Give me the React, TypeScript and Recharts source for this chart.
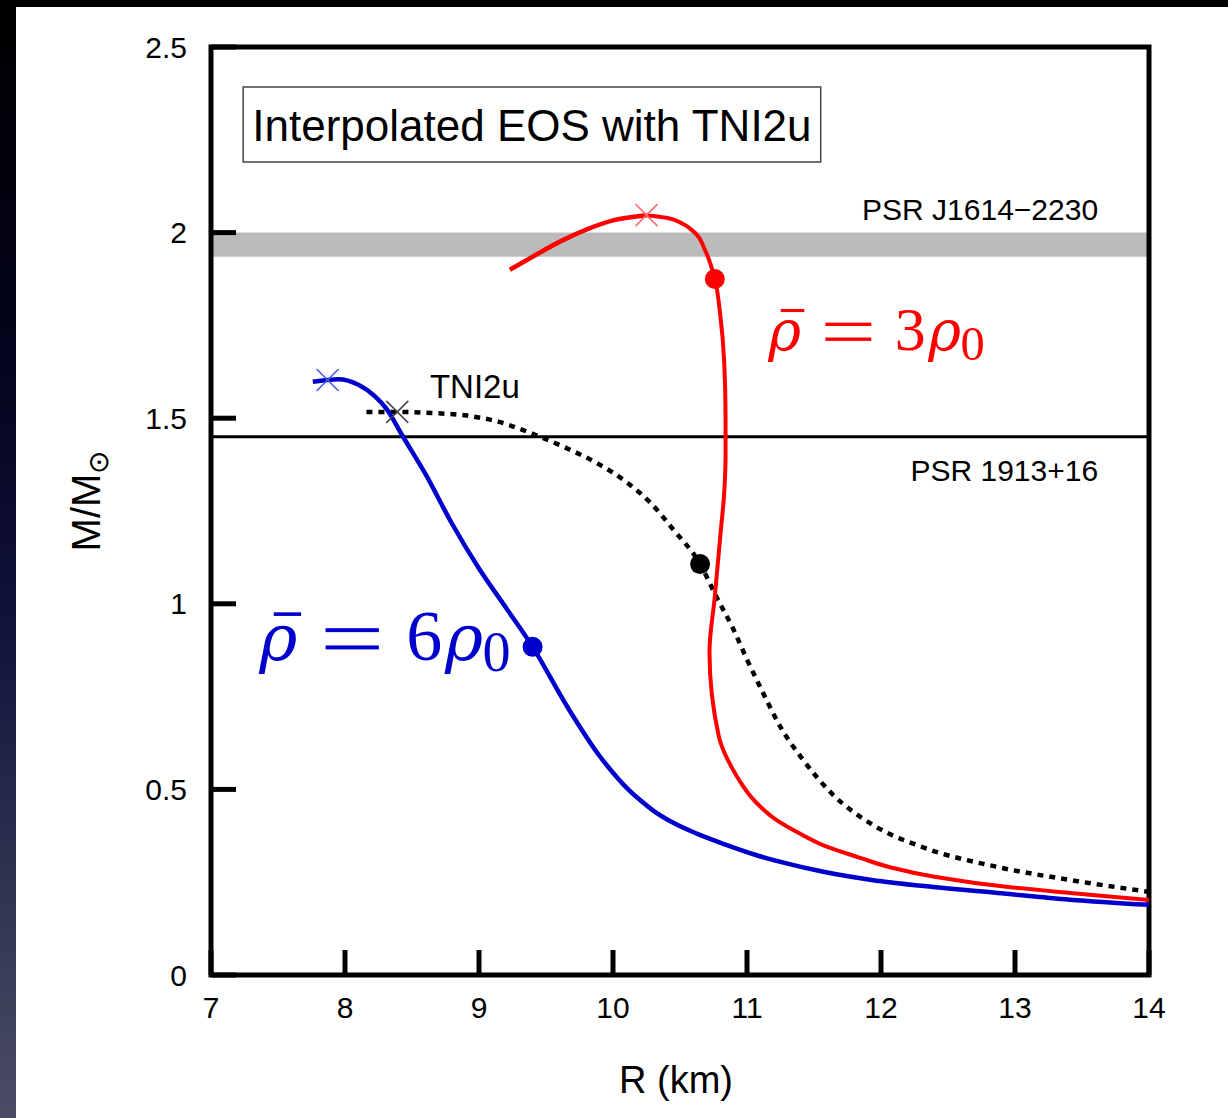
import React from "react";
import {
  ComposedChart,
  Line,
  Scatter,
  XAxis,
  YAxis,
  ReferenceArea,
  ReferenceLine,
  ReferenceDot,
} from "recharts";

const rTicks = [7, 8, 9, 10, 11, 12, 13, 14];
const mTicks = [0, 0.5, 1, 1.5, 2, 2.5];

// mass-radius curves: R (km), M/Msun
// rho = 3 rho0: rising arc up to the maximum mass, then the stable branch
const rho3Arc = [
  { r: 9.23, m: 1.9 }, { r: 9.4, m: 1.935 }, { r: 9.6, m: 1.975 },
  { r: 9.8, m: 2.008 }, { r: 10.0, m: 2.033 }, { r: 10.25, m: 2.047 },
];
const rho3Branch = [
  { r: 10.25, m: 2.047 }, { r: 10.4, m: 2.04 }, { r: 10.52, m: 2.024 },
  { r: 10.61, m: 2.0 }, { r: 10.69, m: 1.95 }, { r: 10.76, m: 1.875 },
  { r: 10.8, m: 1.78 }, { r: 10.83, m: 1.65 }, { r: 10.84, m: 1.5 },
  { r: 10.84, m: 1.4 }, { r: 10.83, m: 1.3 }, { r: 10.8, m: 1.18 },
  { r: 10.76, m: 1.02 }, { r: 10.72, m: 0.87 }, { r: 10.79, m: 0.642 },
  { r: 10.83, m: 0.6 }, { r: 10.885, m: 0.56 }, { r: 10.95, m: 0.52 },
  { r: 11.03, m: 0.48 }, { r: 11.11, m: 0.45 }, { r: 11.21, m: 0.42 },
  { r: 11.39, m: 0.382 }, { r: 11.6, m: 0.345 }, { r: 11.85, m: 0.315 },
  { r: 12.06, m: 0.291 }, { r: 12.41, m: 0.264 }, { r: 12.95, m: 0.237 },
  { r: 13.41, m: 0.221 }, { r: 14.0, m: 0.202 },
];

const rho6Curve = [
  { r: 7.76, m: 1.598 }, { r: 7.95, m: 1.605 }, { r: 8.1, m: 1.59 },
  { r: 8.22, m: 1.56 }, { r: 8.31, m: 1.525 }, { r: 8.43, m: 1.452 },
  { r: 8.6, m: 1.35 }, { r: 8.8, m: 1.215 }, { r: 9.0, m: 1.095 },
  { r: 9.2, m: 0.99 }, { r: 9.4, m: 0.884 }, { r: 9.66, m: 0.722 },
  { r: 9.9, m: 0.59 }, { r: 10.0, m: 0.545 }, { r: 10.1, m: 0.505 },
  { r: 10.2, m: 0.472 }, { r: 10.3, m: 0.443 }, { r: 10.45, m: 0.41 },
  { r: 10.63, m: 0.38 }, { r: 10.85, m: 0.35 }, { r: 11.06, m: 0.324 },
  { r: 11.28, m: 0.302 }, { r: 11.57, m: 0.278 }, { r: 11.93, m: 0.256 },
  { r: 12.39, m: 0.237 }, { r: 12.87, m: 0.221 }, { r: 13.41, m: 0.203 },
  { r: 14.0, m: 0.189 },
];

const tni2uCurve = [
  { r: 8.16, m: 1.517 }, { r: 8.39, m: 1.517 }, { r: 8.65, m: 1.514 },
  { r: 8.91, m: 1.507 }, { r: 9.15, m: 1.49 }, { r: 9.4, m: 1.458 },
  { r: 9.65, m: 1.42 }, { r: 9.9, m: 1.375 }, { r: 10.1, m: 1.328 },
  { r: 10.28, m: 1.272 }, { r: 10.45, m: 1.2 }, { r: 10.65, m: 1.107 },
  { r: 10.77, m: 1.02 }, { r: 10.9, m: 0.93 }, { r: 11.0, m: 0.85 },
  { r: 11.12, m: 0.76 }, { r: 11.25, m: 0.668 }, { r: 11.42, m: 0.579 },
  { r: 11.63, m: 0.49 }, { r: 11.96, m: 0.4 }, { r: 12.33, m: 0.342 },
  { r: 12.87, m: 0.291 }, { r: 13.41, m: 0.256 }, { r: 14.0, m: 0.224 },
];

// maximum-mass configurations (crosses) and marked stars (filled dots)
const rho3Max = [{ r: 10.25, m: 2.047 }];
const rho6Max = [{ r: 7.87, m: 1.603 }];
const tni2uMax = [{ r: 8.39, m: 1.517 }];
const rho3Dot = [{ r: 10.76, m: 1.875 }];
const rho6Dot = [{ r: 9.4, m: 0.884 }];
const tni2uDot = [{ r: 10.65, m: 1.107 }];

// observed pulsar masses
const j1614Band = [1.935, 2.0];
const psr1913Mass = 1.45;

const SANS = "'Liberation Sans', Arial, sans-serif";
const SERIF = "'Liberation Serif', 'DejaVu Serif', serif";
const GREEK = "'DejaVu Serif', serif";

const cross = (color: string) => (p: any) => (
  <g stroke={color} strokeWidth={1.5}>
    <line x1={p.cx - 11} y1={p.cy - 11} x2={p.cx + 11} y2={p.cy + 11} />
    <line x1={p.cx - 11} y1={p.cy + 11} x2={p.cx + 11} y2={p.cy - 11} />
  </g>
);

const disc = (color: string) => (p: any) => (
  <circle cx={p.cx} cy={p.cy} r={10} fill={color} />
);

// \bar\rho = N \rho_0, laid out relative to the anchor (baseline-left)
const mathLabel = (digit: string, color: string, s: number) => (p: any) => {
  const x = p.cx;
  const y = p.cy;
  return (
    <g fill={color}>
      <text x={x + 0.02 * s} y={y} fontFamily={GREEK} fontStyle="italic" fontSize={0.9 * s}>ρ</text>
      <rect x={x + 0.22 * s} y={y - 0.66 * s} width={0.38 * s} height={0.05 * s} />
      <rect x={x + 0.94 * s} y={y - 0.44 * s} width={0.74 * s} height={0.055 * s} />
      <rect x={x + 0.94 * s} y={y - 0.2 * s} width={0.74 * s} height={0.055 * s} />
      <text x={x + 2.06 * s} y={y} fontFamily={SERIF} fontSize={s}>{digit}</text>
      <text x={x + 2.6 * s} y={y} fontFamily={GREEK} fontStyle="italic" fontSize={0.9 * s}>ρ</text>
      <text x={x + 3.12 * s} y={y + 0.16 * s} fontFamily={SERIF} fontSize={0.78 * s}>0</text>
    </g>
  );
};

const plainLabel = (txt: string, anchor: "start" | "end", size: number) => (p: any) => (
  <text x={p.cx} y={p.cy} textAnchor={anchor} fill="#000" fontFamily={SANS} fontSize={size}>
    {txt}
  </text>
);

const YTitle = (props: any) => {
  const { viewBox } = props;
  const x = viewBox.x - 51;
  const y = viewBox.y + viewBox.height / 2 - 10;
  return (
    <text
      x={x}
      y={y}
      transform={`rotate(-90 ${x} ${y})`}
      textAnchor="middle"
      fontFamily={SANS}
      fontSize={40}
      fill="#000"
    >
      M/M
      <tspan fontSize={28} dy={8}>⊙</tspan>
    </text>
  );
};

const XTitle = (props: any) => {
  const { viewBox } = props;
  return (
    <text
      x={viewBox.x + viewBox.width / 2 - 4}
      y={viewBox.y + 118}
      textAnchor="middle"
      fontFamily={SANS}
      fontSize={38}
      fill="#000"
    >
      R (km)
    </text>
  );
};

const BoxTitle = (props: any) => {
  const { viewBox } = props;
  return (
    <text
      x={viewBox.x + viewBox.width / 2}
      y={viewBox.y + viewBox.height / 2 + 16}
      textAnchor="middle"
      fontFamily={SANS}
      fontSize={44}
      fill="#000"
    >
      Interpolated EOS with TNI2u
    </text>
  );
};

const tickFont = { fontSize: 30, fill: "#000", fontFamily: SANS };
const tickMark = { stroke: "#000", strokeWidth: 5 };

export default function App() {
  return (
    <div
      style={{
        position: "fixed",
        left: 0,
        top: 0,
        width: 1228,
        height: 1118,
        overflow: "hidden",
        background:
          "linear-gradient(180deg, #000 0%, #03031a 30%, #10123a 55%, #2e3250 78%, #4a4d63 100%)",
      }}
    >
      <div style={{ position: "absolute", left: 0, top: 0, width: 1228, height: 7, background: "#000" }} />
      <div style={{ position: "absolute", left: 16, top: 7, right: 0, bottom: 0, background: "#fff" }} />
      <div style={{ position: "absolute", left: 0, top: 0 }}>
        <ComposedChart
          width={1228}
          height={1118}
          margin={{ top: 37, right: 69, bottom: 83, left: 151 }}
        >
          <XAxis
            dataKey="r"
            type="number"
            domain={[7, 14]}
            ticks={rTicks}
            allowDataOverflow
            height={60}
            axisLine={false}
            tickSize={-25}
            tickMargin={47}
            tickLine={tickMark}
            tick={tickFont}
            label={<XTitle />}
          />
          <XAxis
            xAxisId="top"
            orientation="top"
            type="number"
            domain={[7, 14]}
            ticks={rTicks}
            allowDataOverflow
            height={10}
            axisLine={false}
            tickSize={-25}
            tickLine={tickMark}
            tick={false}
          />
          <YAxis
            type="number"
            domain={[0, 2.5]}
            ticks={mTicks}
            allowDataOverflow
            width={60}
            axisLine={false}
            tickSize={-25}
            tickMargin={49}
            tickLine={tickMark}
            tick={tickFont}
            label={<YTitle />}
          />
          <YAxis
            yAxisId="right"
            orientation="right"
            type="number"
            domain={[0, 2.5]}
            ticks={mTicks}
            allowDataOverflow
            width={10}
            axisLine={false}
            tickSize={-25}
            tickLine={tickMark}
            tick={false}
          />

          <ReferenceArea y1={j1614Band[0]} y2={j1614Band[1]} fill="#bbbbbb" fillOpacity={1} stroke="none" />
          <ReferenceLine y={psr1913Mass} stroke="#000" strokeWidth={3} />
          <ReferenceArea
            x1={7.24}
            x2={11.55}
            y1={2.19}
            y2={2.392}
            fill="#fff"
            fillOpacity={1}
            stroke="#444"
            strokeWidth={1.5}
            label={<BoxTitle />}
          />

          <Line data={tni2uCurve} dataKey="m" type="monotoneX" stroke="#000" strokeWidth={4.5} strokeDasharray="6 6" dot={false} activeDot={false} isAnimationActive={false} />
          <Line data={rho6Curve} dataKey="m" type="monotoneX" stroke="#0000cc" strokeWidth={4.5} dot={false} activeDot={false} isAnimationActive={false} />
          <Line data={rho3Arc} dataKey="m" type="monotoneX" stroke="#ff0000" strokeWidth={4.5} dot={false} activeDot={false} isAnimationActive={false} />
          <Line data={rho3Branch} dataKey="m" type="monotoneY" stroke="#ff0000" strokeWidth={4} dot={false} activeDot={false} isAnimationActive={false} />

          <Scatter data={rho6Max} dataKey="m" shape={cross("#4a5ae6")} isAnimationActive={false} />
          <Scatter data={rho3Max} dataKey="m" shape={cross("#ff6a6a")} isAnimationActive={false} />
          <Scatter data={tni2uMax} dataKey="m" shape={cross("#444")} isAnimationActive={false} />
          <Scatter data={rho6Dot} dataKey="m" shape={disc("#0000cc")} isAnimationActive={false} />
          <Scatter data={rho3Dot} dataKey="m" shape={disc("#ff0000")} isAnimationActive={false} />
          <Scatter data={tni2uDot} dataKey="m" shape={disc("#000")} isAnimationActive={false} />

          <ReferenceDot x={13.62} y={2.034} r={0} shape={plainLabel("PSR J1614−2230", "end", 30)} />
          <ReferenceDot x={13.62} y={1.33} r={0} shape={plainLabel("PSR 1913+16", "end", 30)} />
          <ReferenceDot x={8.634} y={1.554} r={0} shape={plainLabel("TNI2u", "start", 33)} />
          <ReferenceDot x={11.15} y={1.684} r={0} shape={mathLabel("3", "#ff0000", 62)} />
          <ReferenceDot x={7.35} y={0.849} r={0} shape={mathLabel("6", "#0000cc", 72)} />

          <ReferenceArea x1={7} x2={14} y1={0} y2={2.5} fill="none" stroke="#000" strokeWidth={5} />
        </ComposedChart>
      </div>
    </div>
  );
}
